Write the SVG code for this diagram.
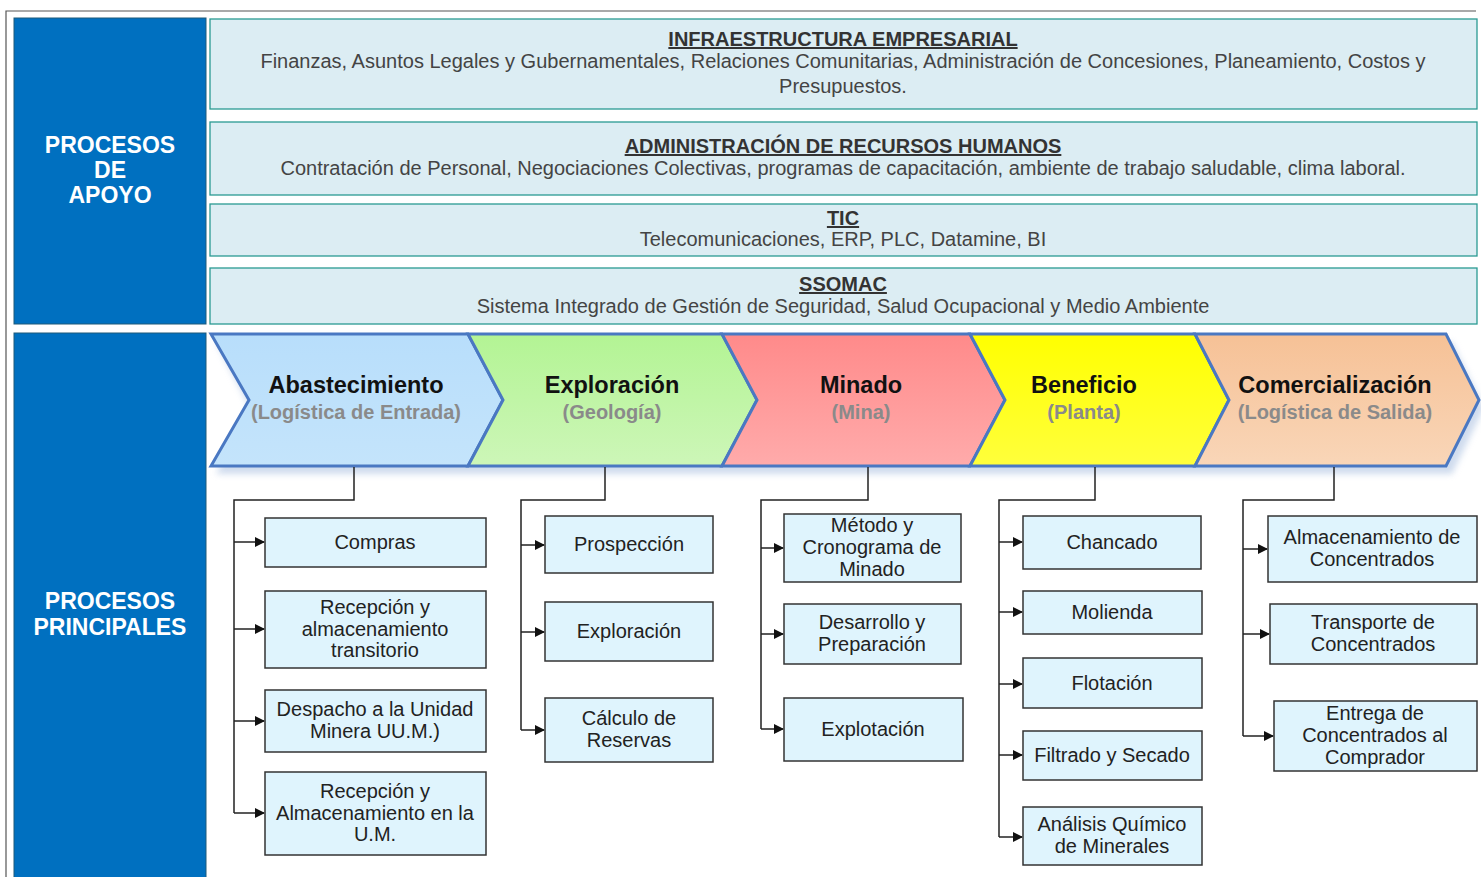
<svg xmlns="http://www.w3.org/2000/svg" width="1481" height="877" viewBox="0 0 1481 877">
  <defs>
    <style>
      .side{fill:#0070c0;stroke:#1f5a7a;stroke-width:1}
      .side-t{font-family:"Liberation Sans",Arial,sans-serif;font-weight:bold;font-size:23px;fill:#fff;text-anchor:middle}
      .sup{fill:#dcedf3;stroke:#2a9a92;stroke-width:1.3}
      .sup-h{font-family:"Liberation Sans",Arial,sans-serif;font-weight:bold;font-size:20px;fill:#333;text-anchor:middle;text-decoration:underline}
      .sup-b{font-family:"Liberation Sans",Arial,sans-serif;font-size:20px;fill:#444;text-anchor:middle}
      .chev{stroke:#4a78c2;stroke-width:3;stroke-linejoin:miter}
      .chev-t{font-family:"Liberation Sans",Arial,sans-serif;font-weight:bold;font-size:23.5px;fill:#111;text-anchor:middle}
      .chev-s{font-family:"Liberation Sans",Arial,sans-serif;font-weight:bold;font-size:20px;fill:#8a8a8a;text-anchor:middle}
      .box{fill:#dff4fd;stroke:#333;stroke-width:1.5}
      .box-t{font-family:"Liberation Sans",Arial,sans-serif;font-size:20px;fill:#222;text-anchor:middle}
      .wire{fill:none;stroke:#222;stroke-width:1.5}
    </style>
    <marker id="arr" markerWidth="10" markerHeight="10" refX="9" refY="5" orient="auto" markerUnits="userSpaceOnUse">
      <path d="M0,0 L10,5 L0,10 Z" fill="#111"/>
    </marker>
    <linearGradient id="gBlue" x1="0" y1="0" x2="0" y2="1"><stop offset="0" stop-color="#b8defb"/><stop offset="1" stop-color="#c4e4fb"/></linearGradient>
    <linearGradient id="gGreen" x1="0" y1="0" x2="0" y2="1"><stop offset="0" stop-color="#b3f494"/><stop offset="1" stop-color="#cdf6b8"/></linearGradient>
    <linearGradient id="gRed" x1="0" y1="0" x2="0" y2="1"><stop offset="0" stop-color="#ff8a8a"/><stop offset="1" stop-color="#ffabab"/></linearGradient>
    <linearGradient id="gYel" x1="0" y1="0" x2="0" y2="1"><stop offset="0" stop-color="#ffff00"/><stop offset="1" stop-color="#ffff3c"/></linearGradient>
    <linearGradient id="gOra" x1="0" y1="0" x2="0" y2="1"><stop offset="0" stop-color="#f6c196"/><stop offset="1" stop-color="#f9d6b8"/></linearGradient>
    <filter id="soft" x="-5%" y="-20%" width="110%" height="140%"><feGaussianBlur stdDeviation="3"/></filter>
  </defs>

  <rect width="1481" height="877" fill="#fff"/>
  <!-- outer frame -->
  <path d="M6,877 V11 H1476" fill="none" stroke="#555" stroke-width="1.2"/>

  <!-- side panels -->
  <g id="apoyo">
    <rect class="side" x="14" y="18" width="192" height="306"/>
    <text class="side-t" x="110" y="153">PROCESOS</text>
    <text class="side-t" x="110" y="178">DE</text>
    <text class="side-t" x="110" y="203">APOYO</text>
  </g>
  <g id="principales">
    <rect class="side" x="14" y="333" width="192" height="550"/>
    <text class="side-t" x="110" y="609">PROCESOS</text>
    <text class="side-t" x="110" y="635">PRINCIPALES</text>
  </g>

  <!-- support processes -->
  <g id="infraestructura">
    <rect class="sup" x="210" y="19" width="1267" height="90"/>
    <text class="sup-h" x="843" y="46">INFRAESTRUCTURA EMPRESARIAL</text>
    <text class="sup-b" x="843" y="68">Finanzas, Asuntos Legales y Gubernamentales, Relaciones Comunitarias, Administración de Concesiones, Planeamiento, Costos y</text>
    <text class="sup-b" x="843" y="93">Presupuestos.</text>
  </g>
  <g id="rrhh">
    <rect class="sup" x="210" y="122" width="1267" height="73"/>
    <text class="sup-h" x="843" y="153">ADMINISTRACIÓN DE RECURSOS HUMANOS</text>
    <text class="sup-b" x="843" y="175">Contratación de Personal, Negociaciones Colectivas, programas de capacitación, ambiente de trabajo saludable, clima laboral.</text>
  </g>
  <g id="tic">
    <rect class="sup" x="210" y="204" width="1267" height="52"/>
    <text class="sup-h" x="843" y="225">TIC</text>
    <text class="sup-b" x="843" y="246">Telecomunicaciones, ERP, PLC, Datamine, BI</text>
  </g>
  <g id="ssomac">
    <rect class="sup" x="210" y="268" width="1267" height="56"/>
    <text class="sup-h" x="843" y="291">SSOMAC</text>
    <text class="sup-b" x="843" y="313">Sistema Integrado de Gestión de Seguridad, Salud Ocupacional y Medio Ambiente</text>
  </g>

  <!-- value chain shadow -->
  <path d="M216,342 H1452 L1484,408 L1452,474 H216 L250,408 Z" fill="#a9bfe0" opacity="0.55" filter="url(#soft)"/>

  <!-- value chain -->
  <g id="abastecimiento">
    <path class="chev" d="M211,334 H468 L503,400 L468,466 H211 L249,400 Z" fill="url(#gBlue)"/>
    <text class="chev-t" x="356" y="393">Abastecimiento</text>
    <text class="chev-s" x="356" y="419">(Logística de Entrada)</text>
  </g>
  <g id="exploracion">
    <path class="chev" d="M468,334 H722 L757,400 L722,466 H468 L503,400 Z" fill="url(#gGreen)"/>
    <text class="chev-t" x="612" y="393">Exploración</text>
    <text class="chev-s" x="612" y="419">(Geología)</text>
  </g>
  <g id="minado">
    <path class="chev" d="M722,334 H970 L1005,400 L970,466 H722 L757,400 Z" fill="url(#gRed)"/>
    <text class="chev-t" x="861" y="393">Minado</text>
    <text class="chev-s" x="861" y="419">(Mina)</text>
  </g>
  <g id="beneficio">
    <path class="chev" d="M970,334 H1195 L1229,400 L1195,466 H970 L1005,400 Z" fill="url(#gYel)"/>
    <text class="chev-t" x="1084" y="393">Beneficio</text>
    <text class="chev-s" x="1084" y="419">(Planta)</text>
  </g>
  <g id="comercializacion">
    <path class="chev" d="M1195,334 H1446 L1479,400 L1446,466 H1195 L1229,400 Z" fill="url(#gOra)"/>
    <text class="chev-t" x="1335" y="393">Comercialización</text>
    <text class="chev-s" x="1335" y="419">(Logística de Salida)</text>
  </g>

  <!-- connectors -->
  <g id="connectors" class="wire">
    <path d="M354,467 V500 H234 V813"/>
    <path d="M234,542 H264" marker-end="url(#arr)"/>
    <path d="M234,629 H264" marker-end="url(#arr)"/>
    <path d="M234,721 H264" marker-end="url(#arr)"/>
    <path d="M234,813 H264" marker-end="url(#arr)"/>

    <path d="M605,467 V500 H521 V730"/>
    <path d="M521,545 H544" marker-end="url(#arr)"/>
    <path d="M521,632 H544" marker-end="url(#arr)"/>
    <path d="M521,730 H544" marker-end="url(#arr)"/>

    <path d="M868,467 V500 H761 V729"/>
    <path d="M761,548 H783" marker-end="url(#arr)"/>
    <path d="M761,634 H783" marker-end="url(#arr)"/>
    <path d="M761,729 H783" marker-end="url(#arr)"/>

    <path d="M1095,467 V500 H999 V837"/>
    <path d="M999,542 H1022" marker-end="url(#arr)"/>
    <path d="M999,612 H1022" marker-end="url(#arr)"/>
    <path d="M999,684 H1022" marker-end="url(#arr)"/>
    <path d="M999,755 H1022" marker-end="url(#arr)"/>
    <path d="M999,837 H1022" marker-end="url(#arr)"/>

    <path d="M1334,467 V500 H1243 V736"/>
    <path d="M1243,549 H1267" marker-end="url(#arr)"/>
    <path d="M1243,634 H1269" marker-end="url(#arr)"/>
    <path d="M1243,736 H1273" marker-end="url(#arr)"/>
  </g>

  <!-- Abastecimiento tasks -->
  <g id="compras"><rect class="box" x="265" y="518" width="221" height="49"/><text class="box-t" x="375" y="549">Compras</text></g>
  <g id="recepcion-transitorio"><rect class="box" x="265" y="591" width="221" height="77"/>
    <text class="box-t" x="375" y="614">Recepción y</text><text class="box-t" x="375" y="636">almacenamiento</text><text class="box-t" x="375" y="657">transitorio</text></g>
  <g id="despacho"><rect class="box" x="265" y="690" width="221" height="62"/>
    <text class="box-t" x="375" y="716">Despacho a la Unidad</text><text class="box-t" x="375" y="738">Minera UU.M.)</text></g>
  <g id="recepcion-um"><rect class="box" x="265" y="772" width="221" height="83"/>
    <text class="box-t" x="375" y="798">Recepción y</text><text class="box-t" x="375" y="820">Almacenamiento en la</text><text class="box-t" x="375" y="841">U.M.</text></g>

  <!-- Exploración tasks -->
  <g id="prospeccion"><rect class="box" x="545" y="516" width="168" height="57"/><text class="box-t" x="629" y="551">Prospección</text></g>
  <g id="exploracion-t"><rect class="box" x="545" y="602" width="168" height="59"/><text class="box-t" x="629" y="638">Exploración</text></g>
  <g id="calculo"><rect class="box" x="545" y="698" width="168" height="64"/>
    <text class="box-t" x="629" y="725">Cálculo de</text><text class="box-t" x="629" y="747">Reservas</text></g>

  <!-- Minado tasks -->
  <g id="metodo"><rect class="box" x="784" y="514" width="177" height="68"/>
    <text class="box-t" x="872" y="532">Método y</text><text class="box-t" x="872" y="554">Cronograma de</text><text class="box-t" x="872" y="576">Minado</text></g>
  <g id="desarrollo"><rect class="box" x="784" y="604" width="177" height="60"/>
    <text class="box-t" x="872" y="629">Desarrollo y</text><text class="box-t" x="872" y="651">Preparación</text></g>
  <g id="explotacion"><rect class="box" x="784" y="698" width="179" height="63"/><text class="box-t" x="873" y="736">Explotación</text></g>

  <!-- Beneficio tasks -->
  <g id="chancado"><rect class="box" x="1023" y="516" width="178" height="53"/><text class="box-t" x="1112" y="549">Chancado</text></g>
  <g id="molienda"><rect class="box" x="1023" y="591" width="179" height="43"/><text class="box-t" x="1112" y="619">Molienda</text></g>
  <g id="flotacion"><rect class="box" x="1023" y="658" width="179" height="50"/><text class="box-t" x="1112" y="690">Flotación</text></g>
  <g id="filtrado"><rect class="box" x="1023" y="731" width="179" height="49"/><text class="box-t" x="1112" y="762">Filtrado y Secado</text></g>
  <g id="analisis"><rect class="box" x="1023" y="807" width="179" height="58"/>
    <text class="box-t" x="1112" y="831">Análisis Químico</text><text class="box-t" x="1112" y="853">de Minerales</text></g>

  <!-- Comercialización tasks -->
  <g id="almacenamiento"><rect class="box" x="1268" y="516" width="209" height="66"/>
    <text class="box-t" x="1372" y="544">Almacenamiento de</text><text class="box-t" x="1372" y="566">Concentrados</text></g>
  <g id="transporte"><rect class="box" x="1270" y="604" width="207" height="60"/>
    <text class="box-t" x="1373" y="629">Transporte de</text><text class="box-t" x="1373" y="651">Concentrados</text></g>
  <g id="entrega"><rect class="box" x="1274" y="701" width="203" height="70"/>
    <text class="box-t" x="1375" y="720">Entrega de</text><text class="box-t" x="1375" y="742">Concentrados al</text><text class="box-t" x="1375" y="764">Comprador</text></g>
</svg>
